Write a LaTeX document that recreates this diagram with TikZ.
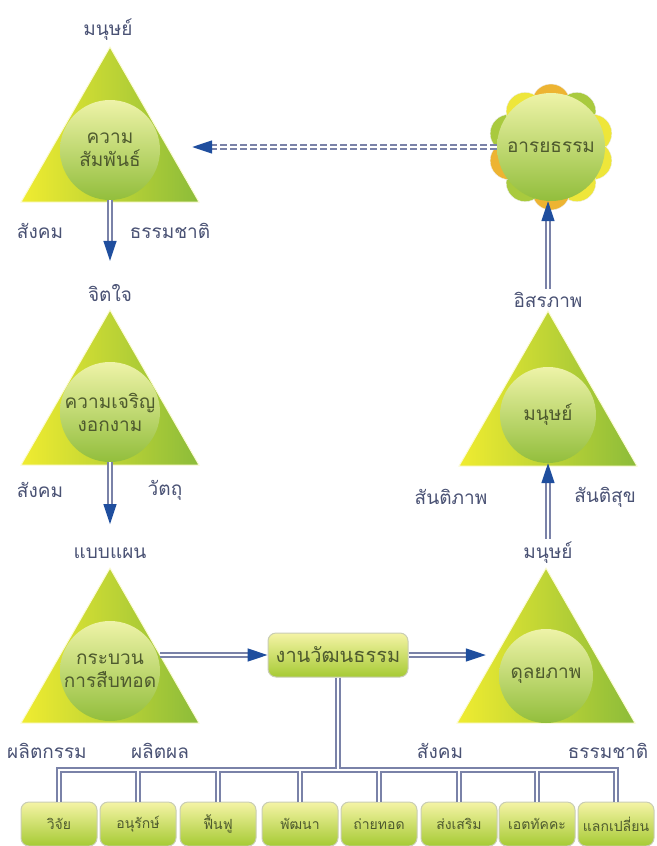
\documentclass[tikz,border=0pt]{standalone}
\usepackage{fontspec}
\setmainfont[Script=Thai]{Loma}
\usetikzlibrary{arrows.meta}
\definecolor{triyel}{HTML}{F0EC30}
\definecolor{trigrn}{HTML}{8CBC3A}
\definecolor{balltop}{HTML}{EEF3A8}
\definecolor{ballbot}{HTML}{92BE3C}
\definecolor{intext}{HTML}{4E5A2E}
\definecolor{labtext}{HTML}{4A5274}
\definecolor{pipecol}{HTML}{7A82A8}
\definecolor{arrowblue}{HTML}{1F4E9E}
\definecolor{boxtop}{HTML}{F5F4A6}
\definecolor{boxbot}{HTML}{A6CA34}
\definecolor{boxedge}{HTML}{C9CDB4}
\definecolor{bumpora}{HTML}{EDB432}
\definecolor{bumpyel}{HTML}{EEE63A}
\definecolor{bumpgrn}{HTML}{A9CA3E}

\begin{document}
\begin{tikzpicture}[x=1pt,y=-1pt,
  tri/.style={left color=triyel, right color=trigrn, draw=white!80!triyel, line width=1pt},
  ball/.style={circle, minimum size=100pt, inner sep=0pt, top color=balltop, bottom color=ballbot,
    text=intext, align=center, font=\fontsize{19}{23}\selectfont},
  lab/.style={text=labtext, font=\fontsize{19}{22}\selectfont},
  pipe/.style={draw=pipecol, double=white, double distance=2.4pt, line width=1.5pt},
  arr/.style={-{Triangle[length=20pt,width=13pt,color=arrowblue]}},
  box/.style={draw=boxedge, line width=1pt, rounded corners=8pt, top color=boxtop, bottom color=boxbot,
    text=intext, minimum height=44pt, inner sep=2pt}]
  \useasboundingbox (0,0) rectangle (656,846);

  % triangles
  \foreach \x/\y in {110/47, 110/310, 110/568, 546/568, 548/311}
    \shade[tri] (\x,\y) -- (\x+89,\y+155) -- (\x-89,\y+155) -- cycle;

  % cloud bumps
  \foreach \a/\c in {90/bumpora, 126/bumpgrn, 162/bumpyel, 198/bumpyel, 234/bumpyel,
                     270/bumpora, 306/bumpgrn, 342/bumpora, 18/bumpgrn, 54/bumpyel}
    \fill[\c, draw=white!85!gray] (551,147) ++(\a:-44) circle (19);

  % circles
  \node[ball] (c1) at (110,150) {ความ\\สัมพันธ์};
  \node[ball] (c2) at (110,412) {ความเจริญ\\งอกงาม};
  \node[ball] (c3) at (110,671) {กระบวน\\การสืบทอด};
  \node[ball, minimum size=94pt] (c4) at (546,676) {ดุลยภาพ};
  \node[ball, minimum size=96pt] (c5) at (548,415) {มนุษย์};
  \node[ball, minimum size=108pt] (cl) at (551,147) {อารยธรรม};

  % labels
  \node[lab] (l1) at (108,30) {มนุษย์};
  \node[lab] (l2) at (40,231) {สังคม};
  \node[lab] (l3) at (170,231) {ธรรมชาติ};
  \node[lab] (l4) at (110,293) {จิตใจ};
  \node[lab] (l5) at (40,490) {สังคม};
  \node[lab] (l6) at (165,490) {วัตถุ};
  \node[lab] (l7) at (110,553) {แบบแผน};
  \node[lab] (l8) at (47,751) {ผลิตกรรม};
  \node[lab] (l9) at (160,751) {ผลิตผล};
  \node[lab] (l10) at (548,553) {มนุษย์};
  \node[lab] (l11) at (440,751) {สังคม};
  \node[lab] (l12) at (608,751) {ธรรมชาติ};
  \node[lab] (l13) at (548,300) {อิสรภาพ};
  \node[lab] (l14) at (451,497) {สันติภาพ};
  \node[lab] (l15) at (605,497) {สันติสุข};

  % boxes
  \node[box, minimum width=140pt, font=\fontsize{20}{22}\selectfont] (w) at (338,655) {งานวัฒนธรรม};
  \foreach \i/\x/\t in {1/59/วิจัย, 2/138/อนุรักษ์, 3/218/ฟื้นฟู, 4/300/พัฒนา,
                        5/379/ถ่ายทอด, 6/459/ส่งเสริม, 7/537/เอตทัคคะ, 8/616/แลกเปลี่ยน}
    \node[box, minimum width=76pt, font=\fontsize{14}{16}\selectfont] (b\i) at (\x,824) {\t};
  \coordinate (bus) at (338,770);

  % connectors
  \draw[pipe, arr, shorten >=20pt] (c1.south) -- (l4.north);
  \draw[pipe, arr, shorten >=20pt] (c2.south) -- (l7.north);
  \draw[pipe, arr] (w.west -| c3.east) -- (w.west);
  \draw[pipe, arr, shorten >=13pt] (w.east) -- (w.east -| c4.west);
  \draw[pipe, arr] (l10.north) -- (c5.south);
  \draw[pipe, arr] (l13.north) -- (l13.north |- cl.south);
  \draw[pipe, dash pattern=on 7pt off 3pt, arr, shorten >=32pt] (cl.west) -- (cl.west -| c1.east);
  \draw[pipe] (w.south) -- (bus) (b1.north) |- (bus) -| (b8.north)
    \foreach \i in {2,...,7} {(b\i.north) -- (b\i.north |- bus)};
\end{tikzpicture}
\end{document}
